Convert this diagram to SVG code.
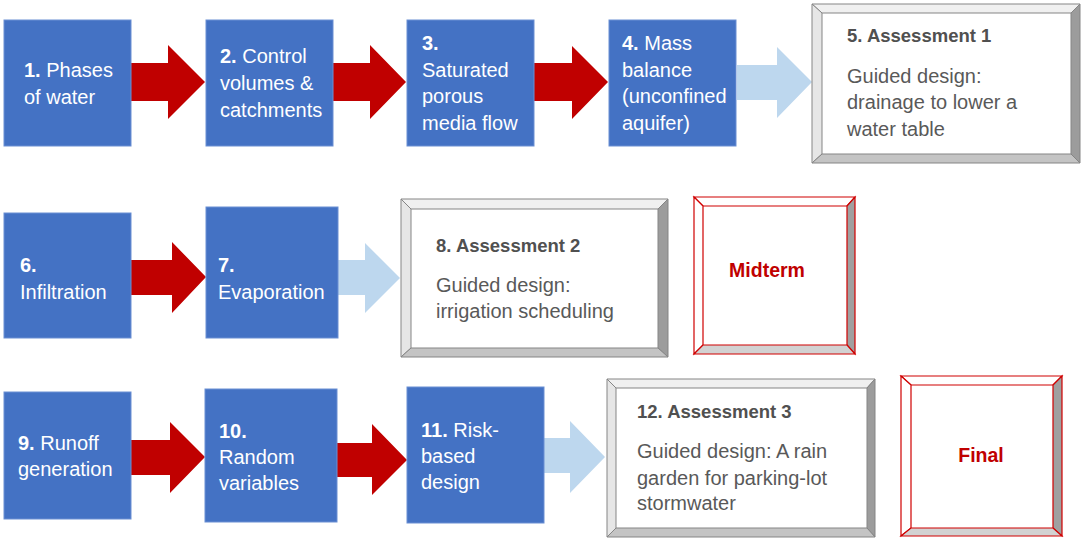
<svg xmlns="http://www.w3.org/2000/svg" width="1084" height="543" viewBox="0 0 1084 543">
<style>
.blue{fill:#4472C4;stroke:#6A8FD3;stroke-width:1}
.wt{font-family:"Liberation Sans",Arial,sans-serif;font-size:20px;fill:#FFFFFF}
.b{font-weight:bold}
.red{fill:#C00000}
.lb{fill:#BDD7EE}
.gt{font-family:"Liberation Sans",Arial,sans-serif;font-size:20px;fill:#595959}
.gh{font-family:"Liberation Sans",Arial,sans-serif;font-size:18.5px;font-weight:bold;fill:#505050}
.rt{font-family:"Liberation Sans",Arial,sans-serif;font-size:19.5px;font-weight:bold;fill:#C00000;text-anchor:middle}
.gs{stroke:#858585;stroke-width:1;stroke-linejoin:miter}
.rs{stroke:#D00000;stroke-width:1.2;stroke-linejoin:miter}
.face{fill:#FFFFFF}
.top{fill:#F0F0F0}
.left{fill:#E6E6E6}
.right{fill:#9C9C9C}
.bot{fill:#C4C4C4}
.rtop{fill:#FFFFFF}
.rleft{fill:#FFFFFF}
.rright{fill:#A0A0A0}
.rbot{fill:#D2D2D2}
</style>

<g id="connectors">
  <polygon class="red" points="131,63 168,63 168,45 205,82 168,119 168,101 131,101"/>
  <polygon class="red" points="333,63 370,63 370,45 406,82 370,119 370,101 333,101"/>
  <polygon class="red" points="534,63 572,63 572,46 608,82 572,119 572,101 534,101"/>
  <polygon class="lb" points="737,65 777,65 777,47 812,82 777,118 777,100 737,100"/>
  <polygon class="red" points="131,260 172,260 172,242 206,277 172,313 172,295 131,295"/>
  <polygon class="lb" points="338,260 365,260 365,243 400,278 365,313 365,295 338,295"/>
  <polygon class="red" points="131,440 170,440 170,422 205,457 170,493 170,475 131,475"/>
  <polygon class="red" points="337,443 372,443 372,424 407,460 372,495 372,477 337,477"/>
  <polygon class="lb" points="544,438 570,438 570,421 605,457 570,493 570,473 544,473"/>
</g>

<g id="node1">
  <rect class="blue" x="4" y="20" width="127" height="126"/>
  <text class="wt" x="24" y="77"><tspan class="b">1.</tspan> Phases</text>
  <text class="wt" x="24" y="104">of water</text>
</g>
<g id="node2">
  <rect class="blue" x="206" y="20" width="127" height="126"/>
  <text class="wt" x="220" y="63"><tspan class="b">2.</tspan> Control</text>
  <text class="wt" x="220" y="90">volumes &amp;</text>
  <text class="wt" x="220" y="117">catchments</text>
</g>
<g id="node3">
  <rect class="blue" x="407" y="20" width="127" height="126"/>
  <text class="wt b" x="422" y="50">3.</text>
  <text class="wt" x="422" y="77">Saturated</text>
  <text class="wt" x="422" y="103">porous</text>
  <text class="wt" x="422" y="130">media flow</text>
</g>
<g id="node4">
  <rect class="blue" x="609" y="20" width="127" height="126"/>
  <text class="wt" x="622" y="50"><tspan class="b">4.</tspan> Mass</text>
  <text class="wt" x="622" y="77">balance</text>
  <text class="wt" x="622" y="103">(unconfined</text>
  <text class="wt" x="622" y="130">aquifer)</text>
</g>
<g id="node5">
  <rect class="face" x="822" y="13" width="249" height="141"/>
  <polygon class="top gs" points="812,4 1080,4 1071,13 822,13"/>
  <polygon class="left gs" points="812,4 822,13 822,154 812,163"/>
  <polygon class="right gs" points="1080,4 1080,163 1071,154 1071,13"/>
  <polygon class="bot gs" points="812,163 822,154 1071,154 1080,163"/>
  <text class="gh" x="847" y="42">5. Assessment 1</text>
  <text class="gt" x="847" y="83">Guided design:</text>
  <text class="gt" x="847" y="109">drainage to lower a</text>
  <text class="gt" x="847" y="136">water table</text>
</g>

<g id="node6">
  <rect class="blue" x="4" y="213" width="127" height="125"/>
  <text class="wt b" x="20" y="272">6.</text>
  <text class="wt" x="20" y="299">Infiltration</text>
</g>
<g id="node7">
  <rect class="blue" x="206" y="207" width="132" height="131"/>
  <text class="wt b" x="218" y="272">7.</text>
  <text class="wt" x="218" y="299">Evaporation</text>
</g>
<g id="node8">
  <rect class="face" x="411" y="209" width="247" height="139"/>
  <polygon class="top gs" points="401,199 668,199 658,209 411,209"/>
  <polygon class="left gs" points="401,199 411,209 411,348 401,357"/>
  <polygon class="right gs" points="668,199 668,357 658,348 658,209"/>
  <polygon class="bot gs" points="401,357 411,348 658,348 668,357"/>
  <text class="gh" x="436" y="252">8. Assessment 2</text>
  <text class="gt" x="436" y="292">Guided design:</text>
  <text class="gt" x="436" y="318">irrigation scheduling</text>
</g>
<g id="midterm">
  <rect class="face" x="703" y="206" width="144" height="139"/>
  <polygon class="rtop rs" points="694,197 855,197 847,206 703,206"/>
  <polygon class="rleft rs" points="694,197 703,206 703,345 694,354"/>
  <polygon class="rright rs" points="855,197 855,354 847,345 847,206"/>
  <polygon class="rbot rs" points="694,354 703,345 847,345 855,354"/>
  <text class="rt" x="767" y="277">Midterm</text>
</g>

<g id="node9">
  <rect class="blue" x="4" y="392" width="127" height="127"/>
  <text class="wt" x="18" y="450"><tspan class="b">9.</tspan> Runoff</text>
  <text class="wt" x="18" y="476">generation</text>
</g>
<g id="node10">
  <rect class="blue" x="205" y="389" width="132" height="133"/>
  <text class="wt b" x="219" y="438">10.</text>
  <text class="wt" x="219" y="464">Random</text>
  <text class="wt" x="219" y="490">variables</text>
</g>
<g id="node11">
  <rect class="blue" x="407" y="387" width="137" height="136"/>
  <text class="wt" x="421" y="437"><tspan class="b">11.</tspan> Risk-</text>
  <text class="wt" x="421" y="463">based</text>
  <text class="wt" x="421" y="489">design</text>
</g>
<g id="node12">
  <rect class="face" x="616" y="388" width="251" height="140"/>
  <polygon class="top gs" points="607,379 875,379 867,388 616,388"/>
  <polygon class="left gs" points="607,379 616,388 616,528 607,537"/>
  <polygon class="right gs" points="875,379 875,537 867,528 867,388"/>
  <polygon class="bot gs" points="607,537 616,528 867,528 875,537"/>
  <text class="gh" x="637" y="418">12. Assessment 3</text>
  <text class="gt" x="637" y="458">Guided design: A rain</text>
  <text class="gt" x="637" y="485">garden for parking-lot</text>
  <text class="gt" x="637" y="510">stormwater</text>
</g>
<g id="final">
  <rect class="face" x="911" y="385" width="142" height="143"/>
  <polygon class="rtop rs" points="901,376 1062,376 1053,385 911,385"/>
  <polygon class="rleft rs" points="901,376 911,385 911,528 901,536"/>
  <polygon class="rright rs" points="1062,376 1062,536 1053,528 1053,385"/>
  <polygon class="rbot rs" points="901,536 911,528 1053,528 1062,536"/>
  <text class="rt" x="981" y="462">Final</text>
</g>
</svg>
